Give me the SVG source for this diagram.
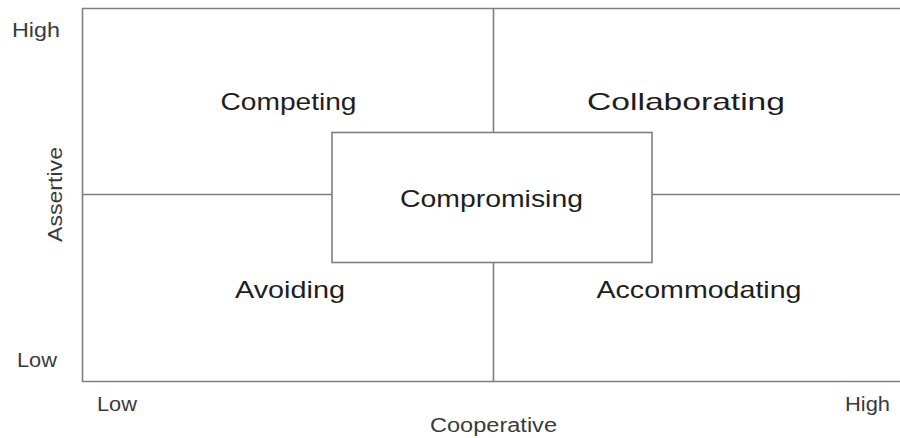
<svg xmlns="http://www.w3.org/2000/svg" width="900" height="438" viewBox="0 0 900 438">
<style>
.ln{stroke:#7f7f7f;stroke-width:1.6;fill:none}
.lbl{font-family:"Liberation Sans",Arial,sans-serif;font-size:24px;fill:#1e1e1e;text-anchor:middle}
.ax{font-family:"Liberation Sans",Arial,sans-serif;font-size:20px;fill:#3a3a3a}
</style>
<rect width="900" height="438" fill="#ffffff"/>
<g id="connectors">
<path class="ln" d="M900 8.5 H82.5 V381.5 H900"/>
<path class="ln" d="M493.5 8.5 V132.5 M493.5 262.5 V381.5"/>
<path class="ln" d="M82.5 194.5 H332 M652 194.5 H900"/>
</g>
<g id="compromising">
<rect class="ln" x="332" y="132.5" width="320" height="130" fill="#ffffff"/>
<text class="lbl" x="491.5" y="207" textLength="183" lengthAdjust="spacingAndGlyphs">Compromising</text>
</g>
<g id="competing"><text class="lbl" x="288.5" y="109.5" textLength="136" lengthAdjust="spacingAndGlyphs">Competing</text></g>
<g id="collaborating"><text class="lbl" x="686" y="109.5" textLength="198" lengthAdjust="spacingAndGlyphs">Collaborating</text></g>
<g id="avoiding"><text class="lbl" x="290" y="298" textLength="110" lengthAdjust="spacingAndGlyphs">Avoiding</text></g>
<g id="accommodating"><text class="lbl" x="699" y="298" textLength="205" lengthAdjust="spacingAndGlyphs">Accommodating</text></g>
<g id="axis-labels">
<text class="ax" x="12" y="37" textLength="48" lengthAdjust="spacingAndGlyphs">High</text>
<text class="ax" x="17" y="366.5" textLength="40" lengthAdjust="spacingAndGlyphs">Low</text>
<text class="ax" x="97" y="410.5" textLength="40" lengthAdjust="spacingAndGlyphs">Low</text>
<text class="ax" x="845" y="410.5" textLength="45" lengthAdjust="spacingAndGlyphs">High</text>
<text class="ax" x="430" y="431.5" textLength="127" lengthAdjust="spacingAndGlyphs">Cooperative</text>
<text class="ax" transform="translate(62,242) rotate(-90)" x="0" y="0" textLength="95" lengthAdjust="spacingAndGlyphs">Assertive</text>
</g>
</svg>
